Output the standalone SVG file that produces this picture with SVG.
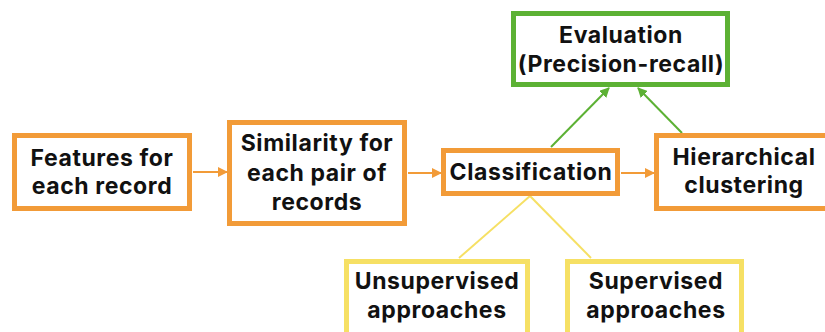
<svg xmlns="http://www.w3.org/2000/svg" width="825" height="332" viewBox="0 0 825 332">
<style>
.box{fill:#fff;stroke-width:5}
.o{stroke:#F29B38}
.g{stroke:#5CB134}
.y{stroke:#F6E064}
text{font-family:Inter,"Liberation Sans",sans-serif;font-weight:700;font-size:23px;letter-spacing:0.6px;fill:#111;text-anchor:middle}
.c line{stroke-width:2}
</style>
<defs>
<marker id="ao" viewBox="0 0 10 10" refX="9" refY="5" markerWidth="5" markerHeight="5" orient="auto" markerUnits="strokeWidth"><path d="M0,0L10,5L0,10z" fill="#F29B38"/></marker>
<marker id="ag" viewBox="0 0 10 10" refX="9" refY="5" markerWidth="5" markerHeight="5" orient="auto" markerUnits="strokeWidth"><path d="M0,0L10,5L0,10z" fill="#5CB134"/></marker>
</defs>
<rect width="825" height="332" fill="#fff"/>
<g class="c">
<line x1="193" y1="172" x2="227" y2="172" stroke="#F29B38" marker-end="url(#ao)"/>
<line x1="408" y1="173" x2="441" y2="173" stroke="#F29B38" marker-end="url(#ao)"/>
<line x1="621" y1="173" x2="654" y2="173" stroke="#F29B38" marker-end="url(#ao)"/>
<line x1="551" y1="147" x2="609" y2="88" stroke="#5CB134" marker-end="url(#ag)"/>
<line x1="682" y1="133" x2="638" y2="88" stroke="#5CB134" marker-end="url(#ag)"/>
<line x1="530" y1="196" x2="459" y2="258" stroke="#F6E064"/>
<line x1="530" y1="196" x2="591" y2="258" stroke="#F6E064"/>
</g>
<g id="features"><rect class="box o" x="14.5" y="135.5" width="175" height="73"/><text x="102" y="166">Features for</text><text x="102" y="194">each record</text></g>
<g id="similarity"><rect class="box o" x="229.5" y="122.5" width="175" height="101"/><text x="317" y="151">Similarity for</text><text x="317" y="181">each pair of</text><text x="317" y="210">records</text></g>
<g id="classification"><rect class="box o" x="443.5" y="150.5" width="174" height="43"/><text x="531" y="180">Classification</text></g>
<g id="hierarchical"><rect class="box o" x="656.5" y="135.5" width="180" height="73"/><text x="744" y="165">Hierarchical</text><text x="744" y="193">clustering</text></g>
<g id="evaluation"><rect class="box g" x="513.5" y="13.5" width="214" height="71"/><text x="621" y="43">Evaluation</text><text x="621" y="72">(Precision-recall)</text></g>
<g id="unsupervised"><rect class="box y" x="346.5" y="261.5" width="181" height="80"/><text x="437" y="289">Unsupervised</text><text x="437" y="318">approaches</text></g>
<g id="supervised"><rect class="box y" x="567.5" y="261.5" width="174" height="80"/><text x="656" y="289">Supervised</text><text x="656" y="318">approaches</text></g>
</svg>
